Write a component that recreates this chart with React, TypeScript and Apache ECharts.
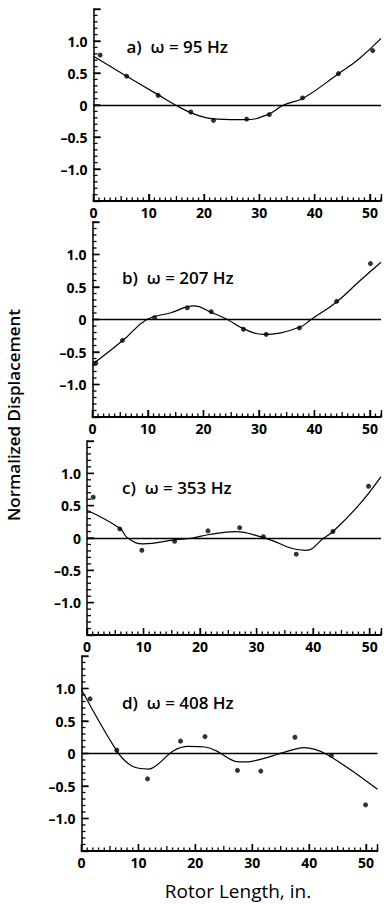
import React, { useEffect, useRef } from "react";
import * as echarts from "echarts";

// Measured points (rotor station, normalized displacement)
const xA = [1.2, 6.0, 11.7, 17.6, 21.7, 27.7, 31.8, 37.8, 44.3, 50.5];
const yA = [0.78, 0.45, 0.15, -0.11, -0.24, -0.22, -0.15, 0.11, 0.49, 0.85];
const xB = [0.6, 5.4, 11.2, 17.1, 21.4, 27.2, 31.3, 37.3, 44.0, 50.1];
const yB = [-0.67, -0.32, 0.03, 0.18, 0.12, -0.15, -0.23, -0.13, 0.28, 0.86];
const xC = [1.1, 5.8, 9.7, 15.5, 21.4, 27.0, 31.2, 37.0, 43.5, 49.8];
const yC = [0.63, 0.14, -0.19, -0.05, 0.11, 0.16, 0.02, -0.25, 0.10, 0.80];
const xD = [1.5, 6.2, 11.6, 17.4, 21.7, 27.4, 31.5, 37.5, 43.9, 49.9];
const yD = [0.84, 0.05, -0.39, 0.19, 0.26, -0.26, -0.27, 0.25, -0.03, -0.79];

// Predicted mode-shape curves
const curveAx = [0, 6, 11.5, 14.8, 18.5, 22.5, 27.5, 31.5, 34.4, 38, 44, 48, 52];
const curveAy = [0.76, 0.45, 0.17, 0, -0.15, -0.22, -0.23, -0.15, 0, 0.11, 0.47, 0.72, 1.04];
const curveBx = [0, 5.5, 9.8, 14, 18.3, 21.4, 24.3, 27.2, 30.8, 37.3, 39.4, 44, 48, 52];
const curveBy = [-0.69, -0.32, 0, 0.1, 0.21, 0.11, 0, -0.14, -0.23, -0.12, 0, 0.27, 0.58, 0.88];
const curveCx = [0, 5.8, 7.2, 9.9, 15.5, 18.6, 21.4, 26.2, 31.2, 38.7, 41.9, 43.5, 48, 52];
const curveCy = [0.43, 0.15, 0, -0.09, -0.03, 0, 0.05, 0.1, 0.005, -0.19, 0, 0.1, 0.5, 0.95];
const curveDx = [0, 6.2, 8.8, 11.8, 16.1, 18.8, 21.7, 23.7, 27, 29, 31.4, 34.3, 37.2, 39, 43.1, 52];
const curveDy = [0.98, 0.04, -0.19, -0.24, 0.04, 0.11, 0.1, 0.04, -0.12, -0.13, -0.09, -0.015, 0.06, 0.09, -0.015, -0.55];

const panelLabels = ["a)  ω = 95 Hz", "b)  ω = 207 Hz", "c)  ω = 353 Hz", "d)  ω = 408 Hz"];
const xTicks = [0, 10, 20, 30, 40, 50];
const yTicks = [-1.0, -0.5, 0, 0.5, 1.0];
const X_MIN = 0;
const X_MAX = 52;
const X_MINOR_STEP = 1;
const Y_MIN = -1.5;
const Y_MAX = 1.5;
const Y_MINOR_STEP = 0.1;
const yAxisTitle = "Normalized Displacement";
const xAxisTitle = "Rotor Length, in.";

const FONT = "'Open Sans', 'Noto Sans', sans-serif";

export default function App() {
  const ref = useRef<HTMLDivElement>(null);
  useEffect(() => {
    if (!ref.current) return;
    const chart = echarts.init(ref.current, undefined, { renderer: "svg" });

    const grids = [
      { left: 93.5, top: 9, width: 290.7, height: 192 },
      { left: 92.5, top: 222, width: 291, height: 195 },
      { left: 87, top: 441, width: 297.5, height: 194 },
      { left: 81.5, top: 656, width: 296, height: 195 },
    ];
    const pts = [
      [xA, yA],
      [xB, yB],
      [xC, yC],
      [xD, yD],
    ];
    const curves = [
      [curveAx, curveAy],
      [curveBx, curveBy],
      [curveCx, curveCy],
      [curveDx, curveDy],
    ];
    const labelY = [46, 277, 487, 702];

    const xAxes: any[] = grids.map((_, i) => ({
      type: "value",
      gridIndex: i,
      min: X_MIN,
      max: X_MAX,
      interval: 10,
      splitLine: { show: false },
      axisLine: { show: true, onZero: false, lineStyle: { color: "#000", width: 1.8 } },
      axisTick: { show: true, inside: true, length: 7, lineStyle: { color: "#000", width: 1.4 } },
      axisLabel: {
        margin: 4,
        color: "#000",
        fontFamily: FONT,
        fontWeight: "bold",
        fontSize: 14,
        formatter: (v: number) => (xTicks.includes(v) ? String(v) : ""),
      },
    }));
    const yAxes: any[] = grids.map((_, i) => ({
      type: "value",
      gridIndex: i,
      min: Y_MIN,
      max: Y_MAX,
      interval: 0.5,
      splitLine: { show: false },
      axisLine: { show: true, onZero: false, lineStyle: { color: "#000", width: 1.5 } },
      axisTick: { show: true, inside: true, length: 7, lineStyle: { color: "#000", width: 1.4 } },
      axisLabel: {
        margin: 6,
        color: "#000",
        fontFamily: FONT,
        fontWeight: "bold",
        fontSize: 14,
        formatter: (v: number) => {
          const r = Math.round(v * 10) / 10;
          if (!yTicks.includes(r)) return "";
          if (r === 0) return "0";
          return r < 0 ? "–" + Math.abs(r).toFixed(1) : r.toFixed(1);
        },
      },
    }));

    const series: any[] = [];
    grids.forEach((_, i) => {
      const [cx, cy] = curves[i];
      series.push({
        type: "line",
        xAxisIndex: i,
        yAxisIndex: i,
        data: cx.map((x, k) => [x, cy[k]]),
        smooth: i === 3 ? 0.3 : 0.45,
        showSymbol: false,
        lineStyle: { color: "#000", width: 1.2 },
        markLine: {
          silent: true,
          symbol: ["none", "none"],
          label: { show: false },
          lineStyle: { color: "#000", width: 1.4, type: "solid" },
          data: [{ yAxis: 0 }],
        },
      });
      const [px, py] = pts[i];
      series.push({
        type: "scatter",
        xAxisIndex: i,
        yAxisIndex: i,
        data: px.map((x, k) => [x, py[k]]),
        symbol: "circle",
        symbolSize: 5,
        itemStyle: { color: "#000" },
      });
    });

    const graphic: any[] = panelLabels.map((t, i) => ({
      type: "text",
      x: 122,
      y: labelY[i],
      style: {
        text: t,
        fontFamily: FONT,
        fontSize: 17,
        fontWeight: 600,
        fill: "#000",
        align: "left",
        verticalAlign: "middle",
      },
    }));
    graphic[0].x = 126.5;
    graphic.push({
      type: "text",
      x: 13,
      y: 415,
      rotation: Math.PI / 2,
      style: {
        text: yAxisTitle,
        fontFamily: FONT,
        fontSize: 17,
        fontWeight: 600,
        fill: "#000",
        align: "center",
        verticalAlign: "middle",
      },
    });
    graphic.push({
      type: "text",
      x: 238,
      y: 891,
      style: {
        text: xAxisTitle,
        fontFamily: FONT,
        fontSize: 19,
        fontWeight: 500,
        fill: "#000",
        align: "center",
        verticalAlign: "middle",
      },
    });

    chart.setOption({
      animation: false,
      grid: grids,
      xAxis: xAxes,
      yAxis: yAxes,
      series,
      graphic,
    });

    // minor tick marks, placed through each panel's axes
    const tickLines: any[] = [];
    grids.forEach((_, i) => {
      const finder = { xAxisIndex: i, yAxisIndex: i };
      const nx = Math.round((X_MAX - X_MIN) / X_MINOR_STEP);
      for (let k = 0; k <= nx; k++) {
        const v = X_MIN + k * X_MINOR_STEP;
        const p = chart.convertToPixel(finder as any, [v, Y_MIN]) as number[];
        if (!p) continue;
        const len = v % 10 === 0 ? 7 : v % 5 === 0 ? 5 : 3.5;
        tickLines.push({
          type: "line",
          shape: { x1: p[0], y1: p[1], x2: p[0], y2: p[1] - len },
          style: { stroke: "#000", lineWidth: 1.3 },
          silent: true,
          z: 10,
        });
      }
      const ny = Math.round((Y_MAX - Y_MIN) / Y_MINOR_STEP);
      for (let k = 0; k <= ny; k++) {
        const v = Math.round((Y_MIN + k * Y_MINOR_STEP) * 10) / 10;
        const p = chart.convertToPixel(finder as any, [X_MIN, v]) as number[];
        if (!p) continue;
        const major = Math.abs(Math.round(v * 2) - v * 2) < 1e-6;
        const len = major ? 7 : 4;
        tickLines.push({
          type: "line",
          shape: { x1: p[0], y1: p[1], x2: p[0] + len, y2: p[1] },
          style: { stroke: "#000", lineWidth: 1.3 },
          silent: true,
          z: 10,
        });
      }
    });
    chart.setOption({ graphic: [...graphic, ...tickLines] });

    return () => chart.dispose();
  }, []);

  return (
    <div
      ref={ref}
      style={{ position: "fixed", left: 0, top: 0, width: 384, height: 905, background: "#fff" }}
    />
  );
}
